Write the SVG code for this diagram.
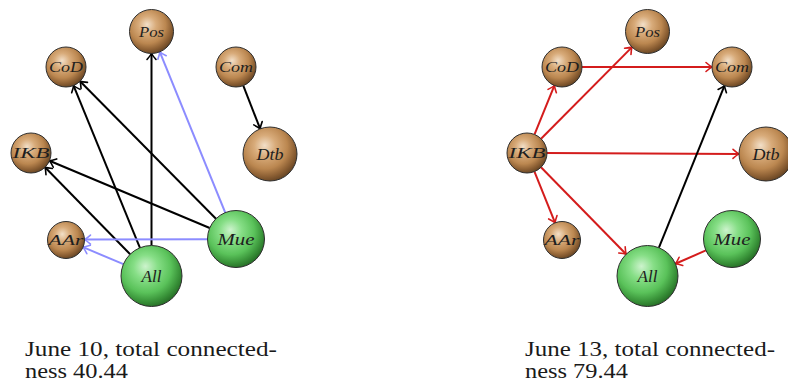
<svg xmlns="http://www.w3.org/2000/svg" width="788" height="385" viewBox="0 0 788 385">
<style>
.ball{stroke:#2e2e2e;stroke-width:1}
.brown{fill:url(#gBrown)}
.green{fill:url(#gGreen)}
.lbl{font-family:"Liberation Serif","DejaVu Serif",serif;font-style:italic;fill:#1e1e1e;text-anchor:middle}
.s{font-size:14px}
.b{font-size:16px}
.e{fill:none;stroke-width:2}
.k{stroke:#000}
.u{stroke:#8c8cff}
.r{stroke:#d41c1c}
.cap{font-family:"Liberation Serif","DejaVu Serif",serif;font-size:21px;fill:#1a1a1a}
</style>
<defs>
<radialGradient id="gBrown" cx="0.42" cy="0.38" r="0.66" fx="0.4" fy="0.34">
<stop offset="0" stop-color="#f2dfc8"/>
<stop offset="0.3" stop-color="#d8ab7a"/>
<stop offset="0.62" stop-color="#bb8750"/>
<stop offset="0.82" stop-color="#8d6034"/>
<stop offset="1" stop-color="#5e3f20"/>
</radialGradient>
<radialGradient id="gGreen" cx="0.42" cy="0.38" r="0.66" fx="0.4" fy="0.34">
<stop offset="0" stop-color="#cdf3cd"/>
<stop offset="0.3" stop-color="#86de86"/>
<stop offset="0.62" stop-color="#5ac25a"/>
<stop offset="0.82" stop-color="#3a943a"/>
<stop offset="1" stop-color="#226622"/>
</radialGradient>
<marker id="aK" markerUnits="userSpaceOnUse" viewBox="-8 -6 10 12" refX="0" refY="0" markerWidth="10" markerHeight="12" orient="auto" overflow="visible">
<path d="M -6 -4.5 Q -2 -1 0 0 Q -2 1 -6 4.5" fill="none" stroke="#000" stroke-width="1.6" stroke-linecap="round"/>
</marker>
<marker id="aU" markerUnits="userSpaceOnUse" viewBox="-8 -6 10 12" refX="0" refY="0" markerWidth="10" markerHeight="12" orient="auto" overflow="visible">
<path d="M -6 -4.5 Q -2 -1 0 0 Q -2 1 -6 4.5" fill="none" stroke="#8c8cff" stroke-width="1.6" stroke-linecap="round"/>
</marker>
<marker id="aR" markerUnits="userSpaceOnUse" viewBox="-8 -6 10 12" refX="0" refY="0" markerWidth="10" markerHeight="12" orient="auto" overflow="visible">
<path d="M -6 -4.5 Q -2 -1 0 0 Q -2 1 -6 4.5" fill="none" stroke="#d41c1c" stroke-width="1.6" stroke-linecap="round"/>
</marker>
</defs>
<rect width="788" height="385" fill="#fff"/>

<g id="june10">
<g id="edges-june10">
<line class="e k" x1="151.5" y1="245.5" x2="151.5" y2="53.5" marker-end="url(#aK)"/>
<line class="e k" x1="139.95" y1="247.77" x2="73.57" y2="85.51" marker-end="url(#aK)"/>
<line class="e k" x1="130.16" y1="254.21" x2="45" y2="167.29" marker-end="url(#aK)"/>
<line class="e k" x1="215.96" y1="218.73" x2="80.06" y2="81.23" marker-end="url(#aK)"/>
<line class="e k" x1="209.72" y1="227.97" x2="49.44" y2="160.74" marker-end="url(#aK)"/>
<line class="e u" x1="225.25" y1="212.6" x2="159.8" y2="51.88" marker-end="url(#aU)"/>
<line class="e u" x1="207.5" y1="239.3" x2="84.5" y2="239.6" marker-end="url(#aU)"/>
<line class="e u" x1="123.39" y1="264.17" x2="83.05" y2="247.18" marker-end="url(#aU)"/>
<line class="e k" x1="243.28" y1="85.63" x2="260.17" y2="128.85" marker-end="url(#aK)"/>
</g>
<g id="n10-Pos"><circle class="ball brown" cx="151.5" cy="31.5" r="22"/><text class="lbl s" x="151.5" y="36.5" textLength="25" lengthAdjust="spacingAndGlyphs">Pos</text></g>
<g id="n10-CoD"><circle class="ball brown" cx="66" cy="67" r="20"/><text class="lbl s" x="66" y="72" textLength="34" lengthAdjust="spacingAndGlyphs">CoD</text></g>
<g id="n10-Com"><circle class="ball brown" cx="236" cy="67" r="20"/><text class="lbl s" x="236" y="72" textLength="34" lengthAdjust="spacingAndGlyphs">Com</text></g>
<g id="n10-Dtb"><circle class="ball brown" cx="270" cy="154" r="27"/><text class="lbl b" x="270" y="159.5" textLength="27" lengthAdjust="spacingAndGlyphs">Dtb</text></g>
<g id="n10-IKB"><circle class="ball brown" cx="31" cy="153" r="20"/><text class="lbl s" x="31" y="158" textLength="37" lengthAdjust="spacingAndGlyphs">IKB</text></g>
<g id="n10-AAr"><circle class="ball brown" cx="66" cy="240" r="18.5"/><text class="lbl s" x="66" y="245" textLength="35" lengthAdjust="spacingAndGlyphs">AAr</text></g>
<g id="n10-All"><circle class="ball green" cx="151.5" cy="276" r="30.5"/><text class="lbl b" x="151.5" y="281.5" textLength="20" lengthAdjust="spacingAndGlyphs">All</text></g>
<g id="n10-Mue"><circle class="ball green" cx="236" cy="239" r="28.5"/><text class="lbl b" x="236" y="244.5" textLength="37" lengthAdjust="spacingAndGlyphs">Mue</text></g>
<text class="cap" x="25" y="356" textLength="252" lengthAdjust="spacingAndGlyphs">June 10, total connected-</text>
<text class="cap" x="25" y="378" textLength="103" lengthAdjust="spacingAndGlyphs">ness 40.44</text>
</g>

<g id="june13" transform="translate(496,0)">
<g id="edges-june13">
<line class="e r" x1="38.54" y1="134.48" x2="58.46" y2="85.48" marker-end="url(#aR)"/>
<line class="e r" x1="45.08" y1="138.8" x2="136.01" y2="47.12" marker-end="url(#aR)"/>
<line class="e r" x1="86" y1="67" x2="216" y2="67" marker-end="url(#aR)"/>
<line class="e r" x1="51" y1="153.1" x2="243" y2="153.9" marker-end="url(#aR)"/>
<line class="e r" x1="38.46" y1="171.55" x2="59.1" y2="222.84" marker-end="url(#aR)"/>
<line class="e r" x1="45" y1="167.29" x2="130.16" y2="254.21" marker-end="url(#aR)"/>
<line class="e r" x1="209.89" y1="250.43" x2="179.44" y2="263.77" marker-end="url(#aR)"/>
<line class="e k" x1="162.93" y1="247.72" x2="228.5" y2="85.54" marker-end="url(#aK)"/>
</g>
<g id="n13-Pos"><circle class="ball brown" cx="151.5" cy="31.5" r="22"/><text class="lbl s" x="151.5" y="36.5" textLength="25" lengthAdjust="spacingAndGlyphs">Pos</text></g>
<g id="n13-CoD"><circle class="ball brown" cx="66" cy="67" r="20"/><text class="lbl s" x="66" y="72" textLength="34" lengthAdjust="spacingAndGlyphs">CoD</text></g>
<g id="n13-Com"><circle class="ball brown" cx="236" cy="67" r="20"/><text class="lbl s" x="236" y="72" textLength="34" lengthAdjust="spacingAndGlyphs">Com</text></g>
<g id="n13-Dtb"><circle class="ball brown" cx="270" cy="154" r="27"/><text class="lbl b" x="270" y="159.5" textLength="27" lengthAdjust="spacingAndGlyphs">Dtb</text></g>
<g id="n13-IKB"><circle class="ball brown" cx="31" cy="153" r="20"/><text class="lbl s" x="31" y="158" textLength="37" lengthAdjust="spacingAndGlyphs">IKB</text></g>
<g id="n13-AAr"><circle class="ball brown" cx="66" cy="240" r="18.5"/><text class="lbl s" x="66" y="245" textLength="35" lengthAdjust="spacingAndGlyphs">AAr</text></g>
<g id="n13-All"><circle class="ball green" cx="151.5" cy="276" r="30.5"/><text class="lbl b" x="151.5" y="281.5" textLength="20" lengthAdjust="spacingAndGlyphs">All</text></g>
<g id="n13-Mue"><circle class="ball green" cx="236" cy="239" r="28.5"/><text class="lbl b" x="236" y="244.5" textLength="37" lengthAdjust="spacingAndGlyphs">Mue</text></g>
<text class="cap" x="29" y="356" textLength="250" lengthAdjust="spacingAndGlyphs">June 13, total connected-</text>
<text class="cap" x="29" y="378" textLength="103" lengthAdjust="spacingAndGlyphs">ness 79.44</text>
</g>
</svg>
